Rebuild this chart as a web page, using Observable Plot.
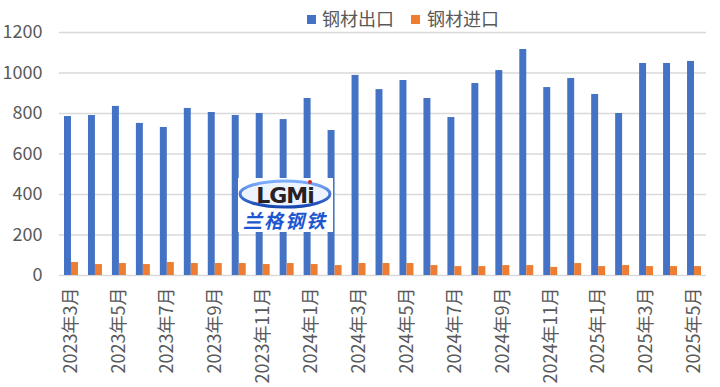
<!DOCTYPE html>
<html><head><meta charset="utf-8">
<script src="https://cdn.jsdelivr.net/npm/d3@7"></script>
<script src="https://cdn.jsdelivr.net/npm/@observablehq/plot@0.6"></script>
<style>
body{margin:0;background:#fff;font-family:"Noto Sans CJK SC","Noto Sans",sans-serif;}
#wrap{position:relative;width:720px;height:387px;overflow:hidden;background:#fff}
#legend{position:relative;height:24px}
.sw{position:absolute;width:9px;height:9px;top:15px}
.lt{position:absolute;top:6px;font-size:18px;color:#595959;line-height:24px;white-space:nowrap}
#logo{position:absolute;left:238px;top:178px;width:95px;height:54px;background:#fff}
</style></head>
<body>
<div id="wrap">
  <div id="legend"></div>
  <div id="chart"></div>
  <div id="logo">
    <svg width="95" height="54">
      <defs><linearGradient id="lg" x1="0" x2="0" y1="0" y2="1"><stop offset="0" stop-color="#7fb0ff"/><stop offset="1" stop-color="#1646b0"/></linearGradient></defs>
      <ellipse cx="47" cy="16" rx="45" ry="13" fill="#eef4ff" stroke="url(#lg)" stroke-width="3"/>
      <text x="47" y="25" text-anchor="middle" font-family="DejaVu Sans" font-weight="bold" font-size="22" fill="#2a2222" letter-spacing="-1">LGMi</text>
      <circle cx="72" cy="4" r="2" fill="#d22"/>
      <text x="47" y="50" text-anchor="middle" font-family="Noto Sans CJK SC" font-weight="bold" font-style="italic" font-size="19" fill="#1e55d0" letter-spacing="2">兰格钢铁</text>
    </svg>
  </div>
</div>
<script>
const months = ["2023年3月","2023年4月","2023年5月","2023年6月","2023年7月","2023年8月","2023年9月","2023年10月","2023年11月","2023年12月",
  "2024年1月","2024年2月","2024年3月","2024年4月","2024年5月","2024年6月","2024年7月","2024年8月","2024年9月","2024年10月","2024年11月","2024年12月",
  "2025年1月","2025年2月","2025年3月","2025年4月","2025年5月"];
const exportsSteel = [785,790,835,751,731,825,805,790,800,770,874,716,988,918,963,874,780,948,1012,1116,928,973,894,800,1047,1047,1057];
const importsSteel = [64,54,59,54,64,59,59,59,54,59,54,49,59,59,59,49,44,44,49,49,40,59,44,49,44,44,44];
const seriesNames = ["钢材出口","钢材进口"];
const seriesColors = ["#4472C4","#ED7D31"];
const yTicks = [0,200,400,600,800,1000,1200];
const xTickLabels = months.filter((d,i)=>i%2===0);

// legend
const legend = document.getElementById("legend");
const legendPos = [{sq:307, tx:322},{sq:411, tx:427}];
seriesNames.forEach((name,i)=>{
  const s=document.createElement("div"); s.className="sw"; s.style.left=legendPos[i].sq+"px"; s.style.background=seriesColors[i];
  const t=document.createElement("div"); t.className="lt"; t.style.left=legendPos[i].tx+"px"; t.textContent=name;
  legend.appendChild(s); legend.appendChild(t);
});

const expData = months.map((m,i)=>({month:m, value:exportsSteel[i]}));
const impData = months.map((m,i)=>({month:m, value:importsSteel[i]}));

const chart = Plot.plot({
  width:720, height:363,
  marginLeft:59, marginRight:14, marginTop:8, marginBottom:112,
  style:{fontFamily:'"Noto Sans CJK SC","Noto Sans",sans-serif', fontSize:"18px", color:"#595959", background:"#fff", overflow:"visible"},
  x:{domain:months, padding:0, round:false},
  y:{domain:[0,1200]},
  marks:[
    Plot.ruleY(yTicks,{stroke:"#d9d9d9", strokeWidth:1.5}),
    Plot.barY(expData,{x:"month", y:"value", fill:seriesColors[0], insetLeft:5, insetRight:12}),
    Plot.barY(impData,{x:"month", y:"value", fill:seriesColors[1], insetLeft:12, insetRight:5}),
    Plot.axisX(xTickLabels,{tickSize:0, tickRotate:-90, tickPadding:12, fontSize:18, fill:"#595959", label:null}),
    Plot.axisY(yTicks,{tickSize:0, tickPadding:17, fontSize:18, fill:"#595959", label:null, tickFormat:d=>String(d)})
  ]
});
document.getElementById("chart").appendChild(chart);
</script>
</body></html>
